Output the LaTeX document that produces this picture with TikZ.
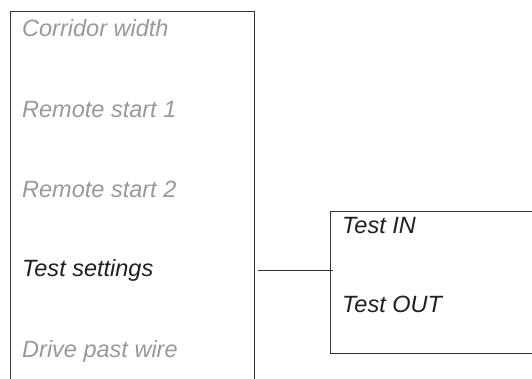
\documentclass[tikz,border=0pt]{standalone}
\usepackage{fontspec}
\setmainfont{Liberation Sans}
\usetikzlibrary{positioning}

\begin{document}
\begin{tikzpicture}[x=1bp, y=-1bp,
    frame/.style={rectangle, draw=black!80, line width=1bp,
                  inner sep=0pt, anchor=north west},
    lbl/.style={anchor=base west, inner sep=0pt,
                font=\fontsize{23.6}{28}\selectfont\itshape, text=black!88},
    dim/.style={lbl, text=black!40},
    link/.style={draw=black!80, line width=1bp}]

  \useasboundingbox (0,0) rectangle (532,378);
  \clip (0,0) rectangle (532,378);

  %--- Cajas ---
  \node[frame, minimum width=243.5bp, minimum height=420bp] (menu) at (10,10.5) {};
  \node[frame, minimum width=300bp,   minimum height=142bp] (sub)  at (330,211) {};

  %--- Menu izquierdo ---
  \node[dim] (corr) at (22,36)  {Corridor width};
  \node[dim] (rem1) at (22,117) {Remote start 1};
  \node[dim] (rem2) at (22,197) {Remote start 2};
  \node[lbl] (tset) at (22,276) {Test settings};
  \node[dim] (drv)  at (22,357) {Drive past wire};

  %--- Submenu ---
  \node[lbl] (tin)  at (342,233) {Test IN};
  \node[lbl] (tout) at (342,312) {Test OUT};

  %--- Enlace ---
  \coordinate (tap) at (0,270);
  \draw[link] ([xshift=3.5bp]menu.east |- tap) -- ([xshift=3bp]sub.west |- tap);
\end{tikzpicture}
\end{document}
